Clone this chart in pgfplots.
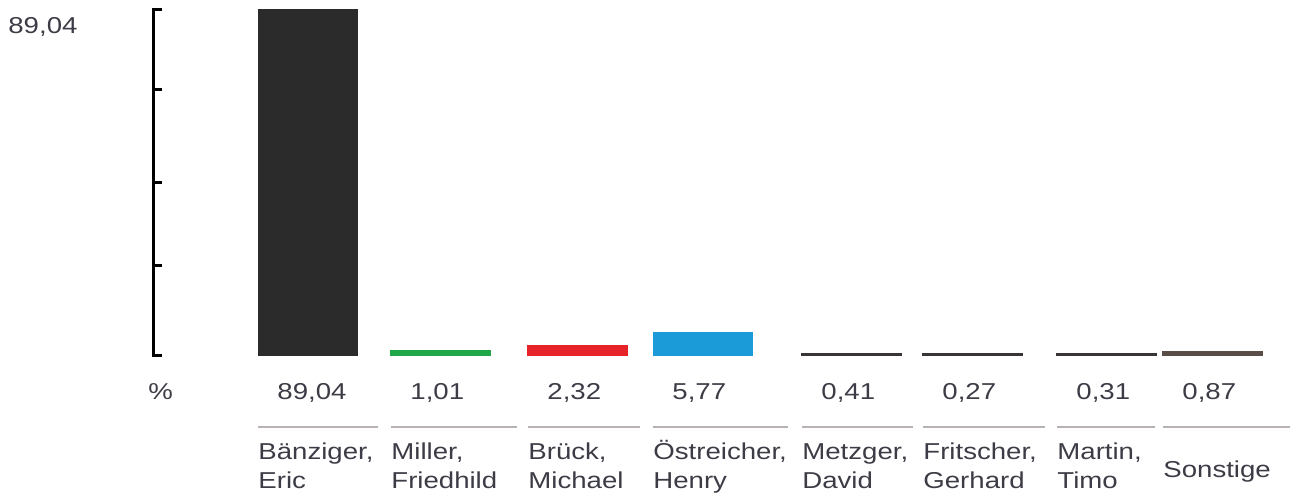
\documentclass[border=0pt]{standalone}
\usepackage{pgfplots}
\pgfplotsset{compat=1.18}
\usepackage{fontspec}
\setmainfont{Liberation Sans}[FakeStretch=1.2]
\definecolor{cDark}{HTML}{2B2B2B}
\definecolor{cGreen}{HTML}{22A64A}
\definecolor{cRed}{HTML}{E52329}
\definecolor{cBlue}{HTML}{1B9BD7}
\definecolor{cLine}{HTML}{3A3535}
\definecolor{cOther}{HTML}{5A4D48}
\definecolor{cText}{HTML}{3C3C46}
\definecolor{cSep}{HTML}{B8B2B2}
\begin{document}
\begin{tikzpicture}
\begin{axis}[
  scale only axis, width=645pt, height=247.5pt,
  xmin=0, xmax=1290, ymin=-36.13, ymax=91.62,
  hide axis, clip=false,
  ybar, bar width=99, bar shift=0pt,
]
\addplot[fill=cDark, draw=cDark, line width=0.5pt] coordinates {(307.5,89.04)};
\addplot[fill=cGreen, draw=cGreen, line width=0.7pt] coordinates {(440.5,1.01)};
\addplot[fill=cRed, draw=cRed, line width=0.8pt] coordinates {(577.5,2.32)};
\addplot[fill=cBlue, draw=cBlue, line width=0.5pt] coordinates {(702.5,5.77)};
\addplot[fill=cLine, draw=cLine, line width=0.6pt] coordinates {(851.5,0.41)};
\addplot[fill=cLine, draw=cLine, line width=0.6pt] coordinates {(972.5,0.27)};
\addplot[fill=cLine, draw=cLine, line width=0.6pt] coordinates {(1106.5,0.31)};
\addplot[fill=cOther, draw=cOther, line width=0.7pt] coordinates {(1212.5,0.87)};
% y axis
\draw[line width=1.5pt, black] (axis cs:153,0) -- (axis cs:153,89.04);
\draw[line width=1.5pt, black] (axis cs:152,0) -- (axis cs:162,0);
\draw[line width=1.5pt, black] (axis cs:152,23.0) -- (axis cs:162,23.0);
\draw[line width=1.5pt, black] (axis cs:152,44.4) -- (axis cs:162,44.4);
\draw[line width=1.5pt, black] (axis cs:152,68.4) -- (axis cs:162,68.4);
\draw[line width=1.5pt, black] (axis cs:152,89.04) -- (axis cs:162,89.04);
\node[anchor=base west, inner sep=0pt, text=cText, font=\fontsize{11.5}{14}\selectfont] at (axis cs:8,83.1) {89,04};
% value row
\node[anchor=base west, inner sep=0pt, text=cText, font=\fontsize{11.5}{14}\selectfont] at (axis cs:148,-11.61) {\%};
\foreach \xx/\lab in {277/{89,04},410/{1,01},547/{2,32},672/{5,77},821/{0,41},942/{0,27},1076/{0,31},1182/{0,87}}{
  \edef\tmp{\noexpand\node[anchor=base west, inner sep=0pt, text=cText, font=\noexpand\fontsize{11.5}{14}\noexpand\selectfont] at (axis cs:\xx,-11.61) {\lab};}\tmp
}
% separators
\foreach \a/\b in {258/378,391/517,528/640,653/788,802/913,923/1045,1057/1155,1163/1290}{
  \edef\tmp{\noexpand\draw[cSep, line width=1pt] (axis cs:\a,-18.58) -- (axis cs:\b,-18.58);}\tmp
}
% names, line 1
\foreach \xx/\lab in {258/{Bänziger,},391/{Miller,},528/{Brück,},653/{Östreicher,},802/{Metzger,},923/{Fritscher,},1057/{Martin,}}{
  \edef\tmp{\noexpand\node[anchor=base west, inner sep=0pt, text=cText, font=\noexpand\fontsize{11.5}{14}\noexpand\selectfont] at (axis cs:\xx,-26.84) {\unexpanded\expandafter{\lab}};}\tmp
}
% names, line 2
\foreach \xx/\lab in {258/{Eric},391/{Friedhild},528/{Michael},653/{Henry},802/{David},923/{Gerhard},1057/{Timo}}{
  \edef\tmp{\noexpand\node[anchor=base west, inner sep=0pt, text=cText, font=\noexpand\fontsize{11.5}{14}\noexpand\selectfont] at (axis cs:\xx,-34.33) {\unexpanded\expandafter{\lab}};}\tmp
}
\node[anchor=base west, inner sep=0pt, text=cText, font=\fontsize{11.5}{14}\selectfont] at (axis cs:1163,-31.49) {Sonstige};
\end{axis}
\pgfresetboundingbox
\path (current axis.south west) rectangle (current axis.north east);
\end{tikzpicture}
\end{document}
